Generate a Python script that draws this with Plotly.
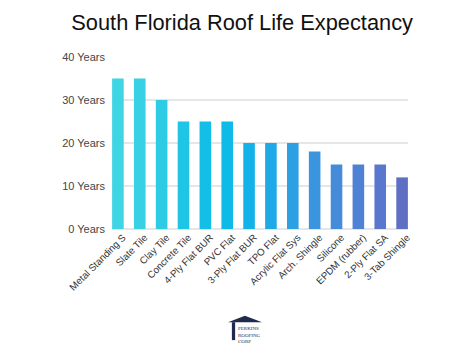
import plotly.graph_objects as go

categories = ["Metal Standing S", "Slate Tile", "Clay Tile", "Concrete Tile",
              "4-Ply Flat BUR", "PVC Flat", "3-Ply Flat BUR", "TPO Flat",
              "Acrylic Flat Sys", "Arch. Shingle", "Silicone", "EPDM (rubber)",
              "2-Ply Flat SA", "3-Tab Shingle"]
years = [35, 35, 30, 25, 25, 25, 20, 20, 20, 18, 15, 15, 15, 12]
bar_colors = ["#40d5e5", "#37d0e4", "#2dcbe4", "#20c5e6", "#13bfe7", "#0ebbe8",
              "#13b2e8", "#1fa9e6", "#2ca0e3", "#3a95de", "#458bda", "#4f81d5",
              "#5877cd", "#5e6fc4"]
y_ticks = [0, 10, 20, 30, 40]
y_tick_labels = ["0 Years", "10 Years", "20 Years", "30 Years", "40 Years"]

fig = go.Figure(go.Bar(
    x=categories, y=years, marker=dict(color=bar_colors, line=dict(width=0)),
    width=0.53,
))

fig.update_layout(
    width=474, height=355,
    margin=dict(l=104, r=74, t=49, b=133.5, autoexpand=False),
    paper_bgcolor="white", plot_bgcolor="white",
    font=dict(family="Liberation Sans, Arial, sans-serif", color="#444"),
    title=dict(text="South Florida Roof Life Expectancy", x=0.494, xanchor="center",
               y=0.96, yanchor="middle",
               font=dict(size=21.8, color="#111", family="Liberation Sans, Arial, sans-serif")),
    showlegend=False,
    xaxis=dict(range=[-0.27, 13.27], tickangle=-45, tickfont=dict(size=9.8, color="#333"),
               showgrid=False, showline=False, ticks="", fixedrange=True,
               ticklabelshift=5),
    yaxis=dict(range=[0, 40], tickvals=y_ticks, ticktext=y_tick_labels,
               tickfont=dict(size=11, color="#444"), gridcolor="#e6e6e6", gridwidth=1.5,
               zeroline=True, zerolinecolor="#e6e6e6", showline=False, ticks="",
               ticklabelstandoff=6),
)

# logo (decorative)
fig.add_shape(type="path", xref="paper", yref="paper",
              path="M 0.392 -0.542 L 0.449 -0.505 L 0.507 -0.542 Z",
              fillcolor="#1f2a4d", line=dict(width=0))
fig.add_shape(type="rect", xref="paper", yref="paper",
              x0=0.405, x1=0.416, y0=-0.646, y1=-0.542,
              fillcolor="#1f2a4d", line=dict(width=0))
fig.add_annotation(text="PERKINS<br>ROOFING<br>CORP", xref="paper", yref="paper",
                   x=0.419, y=-0.552, xanchor="left", yanchor="top", showarrow=False,
                   align="left", font=dict(size=5, color="#1f2a4d", family="Liberation Serif, serif"))

fig.write_html("out.html")
